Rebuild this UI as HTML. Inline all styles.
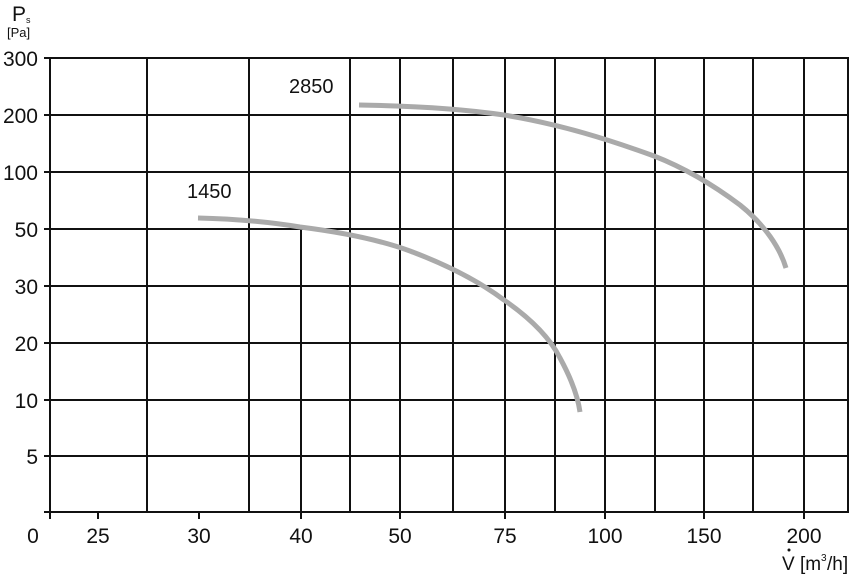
<!DOCTYPE html>
<html><head><meta charset="utf-8"><style>
html,body{margin:0;padding:0;background:#fff;}
svg{display:block;}
text{font-family:"Liberation Sans",Arial,sans-serif;fill:#111;}
</style></head><body>
<svg width="850" height="574" viewBox="0 0 850 574" xmlns="http://www.w3.org/2000/svg">
<g stroke="#111" stroke-width="2" fill="none">
<line x1="50" y1="58" x2="50" y2="519"/>
<line x1="147" y1="58" x2="147" y2="512"/>
<line x1="249" y1="58" x2="249" y2="512"/>
<line x1="301" y1="229" x2="301" y2="512"/>
<line x1="350" y1="58" x2="350" y2="512"/>
<line x1="400" y1="58" x2="400" y2="512"/>
<line x1="453" y1="58" x2="453" y2="512"/>
<line x1="505" y1="58" x2="505" y2="512"/>
<line x1="555" y1="58" x2="555" y2="512"/>
<line x1="605" y1="58" x2="605" y2="512"/>
<line x1="655" y1="58" x2="655" y2="512"/>
<line x1="704" y1="58" x2="704" y2="512"/>
<line x1="753" y1="58" x2="753" y2="512"/>
<line x1="804" y1="58" x2="804" y2="512"/>
<line x1="848" y1="58" x2="848" y2="512"/>
<line x1="44" y1="58" x2="849" y2="58"/>
<line x1="44" y1="115" x2="849" y2="115"/>
<line x1="44" y1="172" x2="849" y2="172"/>
<line x1="44" y1="229" x2="849" y2="229"/>
<line x1="44" y1="286" x2="849" y2="286"/>
<line x1="44" y1="343" x2="849" y2="343"/>
<line x1="44" y1="400" x2="849" y2="400"/>
<line x1="44" y1="456" x2="849" y2="456"/>
<line x1="44" y1="512" x2="849" y2="512"/>
<line x1="98" y1="512" x2="98" y2="519"/>
<line x1="199" y1="512" x2="199" y2="519"/>
<line x1="301" y1="512" x2="301" y2="519"/>
<line x1="400" y1="512" x2="400" y2="519"/>
<line x1="505" y1="512" x2="505" y2="519"/>
<line x1="605" y1="512" x2="605" y2="519"/>
<line x1="704" y1="512" x2="704" y2="519"/>
<line x1="804" y1="512" x2="804" y2="519"/>
</g>
<g stroke="#aaa" stroke-width="5" fill="none" stroke-linecap="butt">
<path d="M359,105 C420,106 470,110 504,115 C560,124 610,140 654,156 C690,170 720,190 740,205 C765,225 780,248 786,268"/>
<path d="M198,218 C240,219 270,222 300,227 C340,232 380,240 410,251 C450,266 480,282 504,300 C530,318 550,338 560,358 C572,380 578,398 580,412"/>
</g>
<g font-size="21" text-anchor="end">
<text x="38" y="66">300</text>
<text x="38" y="123">200</text>
<text x="38" y="180">100</text>
<text x="38" y="237">50</text>
<text x="38" y="294">30</text>
<text x="38" y="351">20</text>
<text x="38" y="408">10</text>
<text x="38" y="464">5</text>
</g>
<g font-size="21" text-anchor="middle">
<text x="33" y="543">0</text>
<text x="98" y="543">25</text>
<text x="199" y="543">30</text>
<text x="301" y="543">40</text>
<text x="400" y="543">50</text>
<text x="505" y="543">75</text>
<text x="605" y="543">100</text>
<text x="704" y="543">150</text>
<text x="804" y="543">200</text>
</g>
<text x="289" y="93" font-size="20">2850</text>
<text x="187" y="198" font-size="20">1450</text>
<text x="12" y="21" font-size="21">P</text>
<text x="26" y="23" font-size="9">s</text>
<text x="7" y="37" font-size="13">[Pa]</text>
<text x="782" y="570" font-size="19">V [m</text>
<text x="821" y="561" font-size="10">3</text>
<text x="827" y="570" font-size="19">/h]</text>
<circle cx="789" cy="550" r="1.5" fill="#111"/>
</svg>
</body></html>
